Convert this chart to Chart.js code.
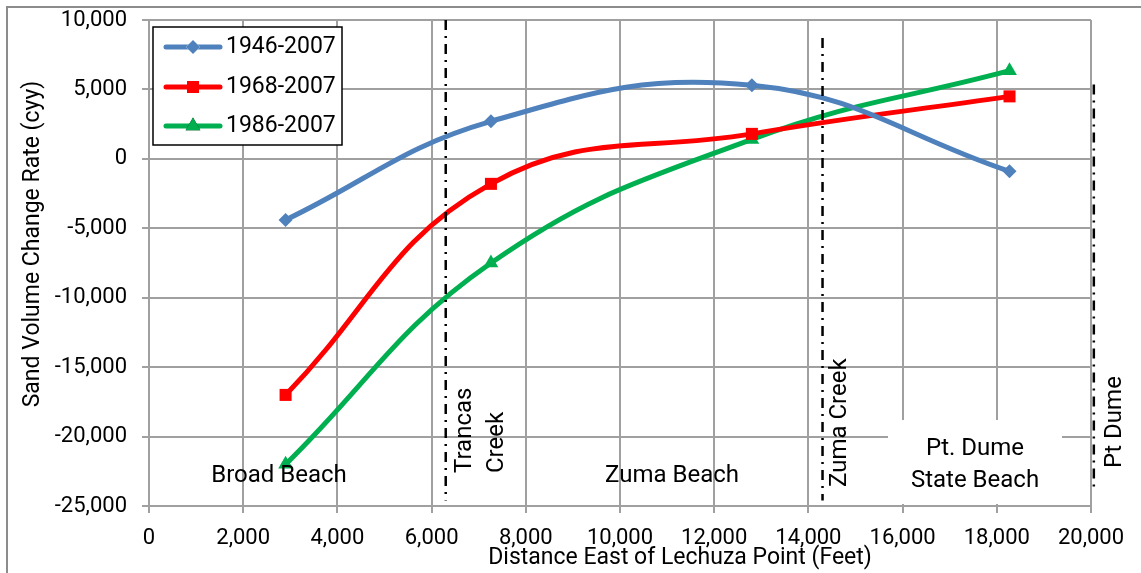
<!DOCTYPE html>
<html>
<head>
<meta charset="utf-8">
<script src="https://cdn.jsdelivr.net/npm/chart.js@4/dist/chart.umd.min.js"></script>
<style>
  html, body { margin: 0; padding: 0; background: #fff; }
  #wrap { width: 1141px; height: 573px; position: relative; }
</style>
</head>
<body>
<div id="wrap"><canvas id="c" width="1141" height="573"></canvas></div>
<script>
// ---- data ----
const distances = [2900, 7260, 12800, 18270];
const series1946 = [-4400, 2700, 5300, -900];
const series1968 = [-17000, -1800, 1800, 4500];
const series1986 = [-22000, -7500, 1400, 6350];
const seriesLabels = ['1946-2007', '1968-2007', '1986-2007'];
const xTicks = [0, 2000, 4000, 6000, 8000, 10000, 12000, 14000, 16000, 18000, 20000];
const yTicks = [-25000, -20000, -15000, -10000, -5000, 0, 5000, 10000];
// landmark markers: x location and vertical extent (y from, y to)
const landmarkNames = ['Trancas Creek', 'Zuma Creek', 'Pt Dume'];
const landmarkX = [6300, 14300, 20060];
const landmarkYTop = [10000, 8700, 5350];
const landmarkYBottom = [-24600, -24600, -23850];

const FONT = 'Roboto, "Liberation Sans", sans-serif';
const colors = ['#4F81BD', '#FF0000', '#00B050'];
const styles = ['rectRot', 'rect', 'triangle'];
const radii = [7, 8.5, 8.5];
const fmt = v => v.toLocaleString('en-US');

function pts(ys) { return distances.map((x, i) => ({ x: x, y: ys[i] })); }

const datasets = [series1946, series1968, series1986].map((s, i) => ({
  label: seriesLabels[i],
  data: pts(s),
  showLine: true,
  borderColor: colors[i],
  backgroundColor: colors[i],
  borderWidth: 5,
  tension: 0.42,
  pointStyle: styles[i],
  pointRadius: radii[i],
  pointHoverRadius: radii[i],
  pointBorderWidth: 0,
  order: 2
}));
landmarkX.forEach((x, i) => {
  datasets.push({
    label: landmarkNames[i],
    data: [{ x: x, y: landmarkYTop[i] }, { x: x, y: landmarkYBottom[i] }],
    showLine: true,
    borderColor: '#000',
    borderWidth: 2.5,
    borderDash: [10, 6, 2, 6],
    pointRadius: 0,
    tension: 0,
    clip: false,
    order: 1
  });
});

const PLOT_TOP = 20;

const decor = {
  id: 'decor',
  afterLayout(chart) {
    const a = chart.chartArea;
    const y = chart.scales.y;
    a.top = PLOT_TOP;
    a.height = a.bottom - a.top;
    y.top = PLOT_TOP;
    y.height = y.bottom - y.top;
    y.configure();
  },
  beforeDatasetsDraw(chart) {
    const ctx = chart.ctx;
    ctx.save();
    ctx.fillStyle = '#fff';
    ctx.fillRect(888, 420, 174, 84);
    ctx.restore();
  },
  afterDraw(chart) {
    const ctx = chart.ctx;
    ctx.save();
    // outer border
    ctx.strokeStyle = '#8c8c8c';
    ctx.lineWidth = 2;
    ctx.strokeRect(7, 7, 1140, 600);

    ctx.fillStyle = '#000';
    ctx.textBaseline = 'middle';
    // axis titles
    ctx.font = '23px ' + FONT;
    ctx.textAlign = 'center';
    ctx.fillText('Distance East of Lechuza Point (Feet)', 680, 558);
    ctx.save();
    ctx.translate(33, 244);
    ctx.rotate(-Math.PI / 2);
    ctx.fillText('Sand Volume Change Rate (cyy)', 0, 0);
    ctx.restore();

    // region annotations
    ctx.font = '24px ' + FONT;
    ctx.fillText('Broad Beach', 279, 476);
    ctx.fillText('Zuma Beach', 672, 476);
    ctx.fillText('Pt. Dume', 975, 449);
    ctx.fillText('State Beach', 975, 481);
    ctx.textAlign = 'left';
    const rot = (t, x, y) => {
      ctx.save(); ctx.translate(x, y); ctx.rotate(-Math.PI / 2);
      ctx.fillText(t, 0, 0); ctx.restore();
    };
    rot('Trancas', 465, 473);
    rot('Creek', 497, 473);
    rot('Zuma Creek', 840, 487);
    rot('Pt Dume', 1115, 468);

    // legend
    ctx.fillStyle = '#fff';
    ctx.fillRect(153, 27, 189, 118);
    ctx.strokeStyle = '#000';
    ctx.lineWidth = 1.5;
    ctx.strokeRect(153, 27, 189, 118);
    const rows = [47, 87, 126];
    seriesLabels.forEach((lab, i) => {
      const y = rows[i];
      ctx.strokeStyle = colors[i];
      ctx.lineWidth = 5;
      ctx.lineCap = 'round';
      ctx.beginPath(); ctx.moveTo(166, y); ctx.lineTo(220, y); ctx.stroke();
      Chart.helpers.drawPoint(ctx, {
        pointStyle: styles[i], radius: radii[i], borderWidth: 0, rotation: 0
      }, 193, y);
      ctx.fillStyle = colors[i];
      ctx.fill();
      ctx.fillStyle = '#000';
      ctx.font = '23px ' + FONT;
      ctx.textAlign = 'left';
      ctx.fillText(lab, 226, y);
    });
    ctx.restore();
  }
};

new Chart(document.getElementById('c'), {
  type: 'scatter',
  data: { datasets: datasets },
  options: {
    responsive: false,
    animation: false,
    events: [],
    layout: { padding: { left: 0, top: 8, right: 50, bottom: 0 } },
    plugins: { legend: { display: false }, tooltip: { enabled: false } },
    scales: {
      x: {
        type: 'linear', min: 0, max: 20000,
        afterFit(s) { s.height = 67; },
        afterBuildTicks(s) { s.ticks = xTicks.map(v => ({ value: v })); },
        ticks: { callback: fmt, color: '#000', font: { family: FONT, size: 22 }, padding: 12, maxRotation: 0, autoSkip: false },
        grid: { color: '#a0a0a0', lineWidth: 2, tickLength: 7, tickColor: '#a0a0a0' },
        border: { color: '#a0a0a0', width: 2 }
      },
      y: {
        type: 'linear', min: -25000, max: 10000,
        afterFit(s) { s.width = 149; },
        afterBuildTicks(s) { s.ticks = yTicks.map(v => ({ value: v })); },
        ticks: { callback: fmt, color: '#000', font: { family: FONT, size: 22 }, padding: 15, autoSkip: false },
        grid: { color: '#a0a0a0', lineWidth: 2, tickLength: 7, tickColor: '#a0a0a0' },
        border: { color: '#a0a0a0', width: 2 }
      }
    }
  },
  plugins: [decor]
});
</script>
</body>
</html>
